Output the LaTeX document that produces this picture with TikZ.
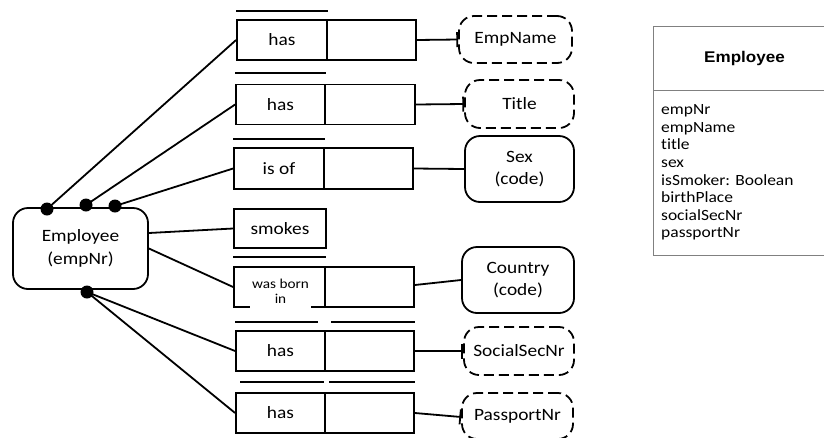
\documentclass[tikz,border=0pt]{standalone}
\usepackage{fontspec}
\setmainfont{Carlito}[FakeStretch=1.12, Ligatures={NoCommon}]
\newfontfamily\headfont{Liberation Sans}[FakeStretch=1.1]
\usetikzlibrary{arrows.meta}

\tikzset{
  lbl/.style={font=\fontsize{17.3}{22.5}\selectfont, align=center},
  role/.style={draw, line width=1.8pt, minimum height=40pt, inner sep=0pt, lbl},
  vtype/.style={draw, line width=1.8pt, rounded corners=15pt, inner sep=0pt, lbl},
  dashedvt/.style={vtype, dash pattern=on 10pt off 5pt},
  conn/.style={line width=1.8pt},
  refconn/.style={conn, -{Bar[width=15pt,line width=1.8pt]}},
  dot/.style={circle, fill, inner sep=0pt, minimum size=13pt},
  ubar/.style={line width=1.8pt},
  umlline/.style={draw=black!50, line width=1pt},
}

\begin{document}
\begin{tikzpicture}[x=1pt, y=-1pt]
\useasboundingbox (0,0) rectangle (824,437);

% entity type
\node[vtype, minimum width=135pt, minimum height=81pt] (emp) at (80.5,248.5) {Employee\\(empNr)};

% fact types: two roles each (smokes has one)
\node[role, minimum width=90pt] (f1a) at (282,40) {has};
\node[role, minimum width=89pt] (f1b) at (371.5,40) {};
\node[role, minimum width=89pt] (f2a) at (280.5,104.5) {has};
\node[role, minimum width=90pt] (f2b) at (370,104.5) {};
\node[role, minimum width=90pt, minimum height=41pt] (f3a) at (279,168.5) {is of};
\node[role, minimum width=89pt, minimum height=41pt] (f3b) at (368.5,168.5) {};
\node[role, minimum width=92pt, minimum height=39pt] (f4a) at (280,228.5) {smokes};
\node[role, minimum width=91pt] (f5a) at (279.5,287) {};
\node[role, minimum width=89pt] (f5b) at (369.5,287) {};
\node[fill=white, anchor=south, inner xsep=2pt, inner ysep=0pt, align=center,
      font=\fontsize{13.6}{15}\selectfont, text depth=6pt] (bornlbl) at (280.5,309.5) {was born\\in};
\node[role, minimum width=89pt] (f6a) at (280.5,351) {has};
\node[role, minimum width=89pt] (f6b) at (369.5,351) {};
\node[role, minimum width=89pt] (f7a) at (280.5,413) {has};
\node[role, minimum width=89pt] (f7b) at (369.5,413) {};

% uniqueness bars
\draw[ubar] ([yshift=8pt]f1a.north west) -- ([yshift=8pt]f1a.north east);
\draw[ubar] ([yshift=11pt]f2a.north west) -- ([yshift=11pt]f2a.north east);
\draw[ubar] ([yshift=8pt]f3a.north west) -- ([yshift=8pt]f3a.north east);
\draw[ubar] ([yshift=9pt]f5a.north west) -- ([yshift=9pt]f5a.north east);
\draw[ubar] ([yshift=8pt]f6a.north west) -- ([yshift=8pt,xshift=-8pt]f6a.north east);
\draw[ubar] ([yshift=8pt,xshift=7pt]f6b.north west) -- ([yshift=8pt]f6b.north east);
\draw[ubar] ([yshift=10pt,xshift=5pt]f7a.north west) -- ([yshift=10pt,xshift=-2pt]f7a.north east);
\draw[ubar] ([yshift=10pt,xshift=5pt]f7b.north west) -- ([yshift=10pt]f7b.north east);

% value types
\node[dashedvt, minimum width=113pt, minimum height=47pt] (empname) at (515.5,39.5) {EmpName};
\node[dashedvt, minimum width=109pt, minimum height=48pt] (title) at (519.5,104) {Title};
\node[vtype, minimum width=109pt, minimum height=66pt] (sex) at (519.5,169) {Sex\\(code)};
\node[vtype, minimum width=112pt, minimum height=66pt] (country) at (518,280) {Country\\(code)};
\node[dashedvt, minimum width=110pt, minimum height=48pt] (ssn) at (519,351) {SocialSecNr};
\node[dashedvt, minimum width=111pt, minimum height=46pt] (passport) at (517.5,416) {PassportNr};

% role connectors
\draw[conn] (47,209) coordinate (c1) -- (f1a.west);
\draw[conn] (86,205) coordinate (c2) -- (f2a.west);
\draw[conn] (115,206) coordinate (c3) -- (f3a.west);
\draw[conn] ([yshift=15.5pt]emp.east) -- (f4a.west);
\draw[conn] (emp.east) -- (f5a.west);
\draw[conn] (87,292) coordinate (c4) -- (f6a.west);
\draw[conn] (c4) -- (f7a.west);
\node[dot] (d1) at (c1) {};
\node[dot] (d2) at (c2) {};
\node[dot] (d3) at (c3) {};
\node[dot] (d4) at (c4) {};

% connectors to value types
\draw[refconn] (f1b.east) -- (empname.west);
\draw[refconn] (f2b.east) -- (title.west);
\draw[conn] (f3b.east) -- (sex.west);
\draw[conn] ([yshift=2pt]f5b.east) -- (country.west);
\draw[refconn] (f6b.east) -- (ssn.west);
\draw[refconn] (f7b.east) -- ([yshift=-1pt]passport.west);

% UML class
\draw[umlline] (824,26) -- (653,26) -- (653,255) -- (824,255);
\draw[umlline] (653,90) -- (824,90);
\node[font=\headfont\bfseries\fontsize{15.5}{18}\selectfont] (cls) at (744.5,58) {Employee};
\node[anchor=north west, inner sep=0pt, align=left, font=\fontsize{15.6}{17.6}\selectfont] (attrs) at (661,104.5)
  {empNr\\empName\\title\\sex\\isSmoker: Boolean\\birthPlace\\socialSecNr\\passportNr};
\end{tikzpicture}
\end{document}
